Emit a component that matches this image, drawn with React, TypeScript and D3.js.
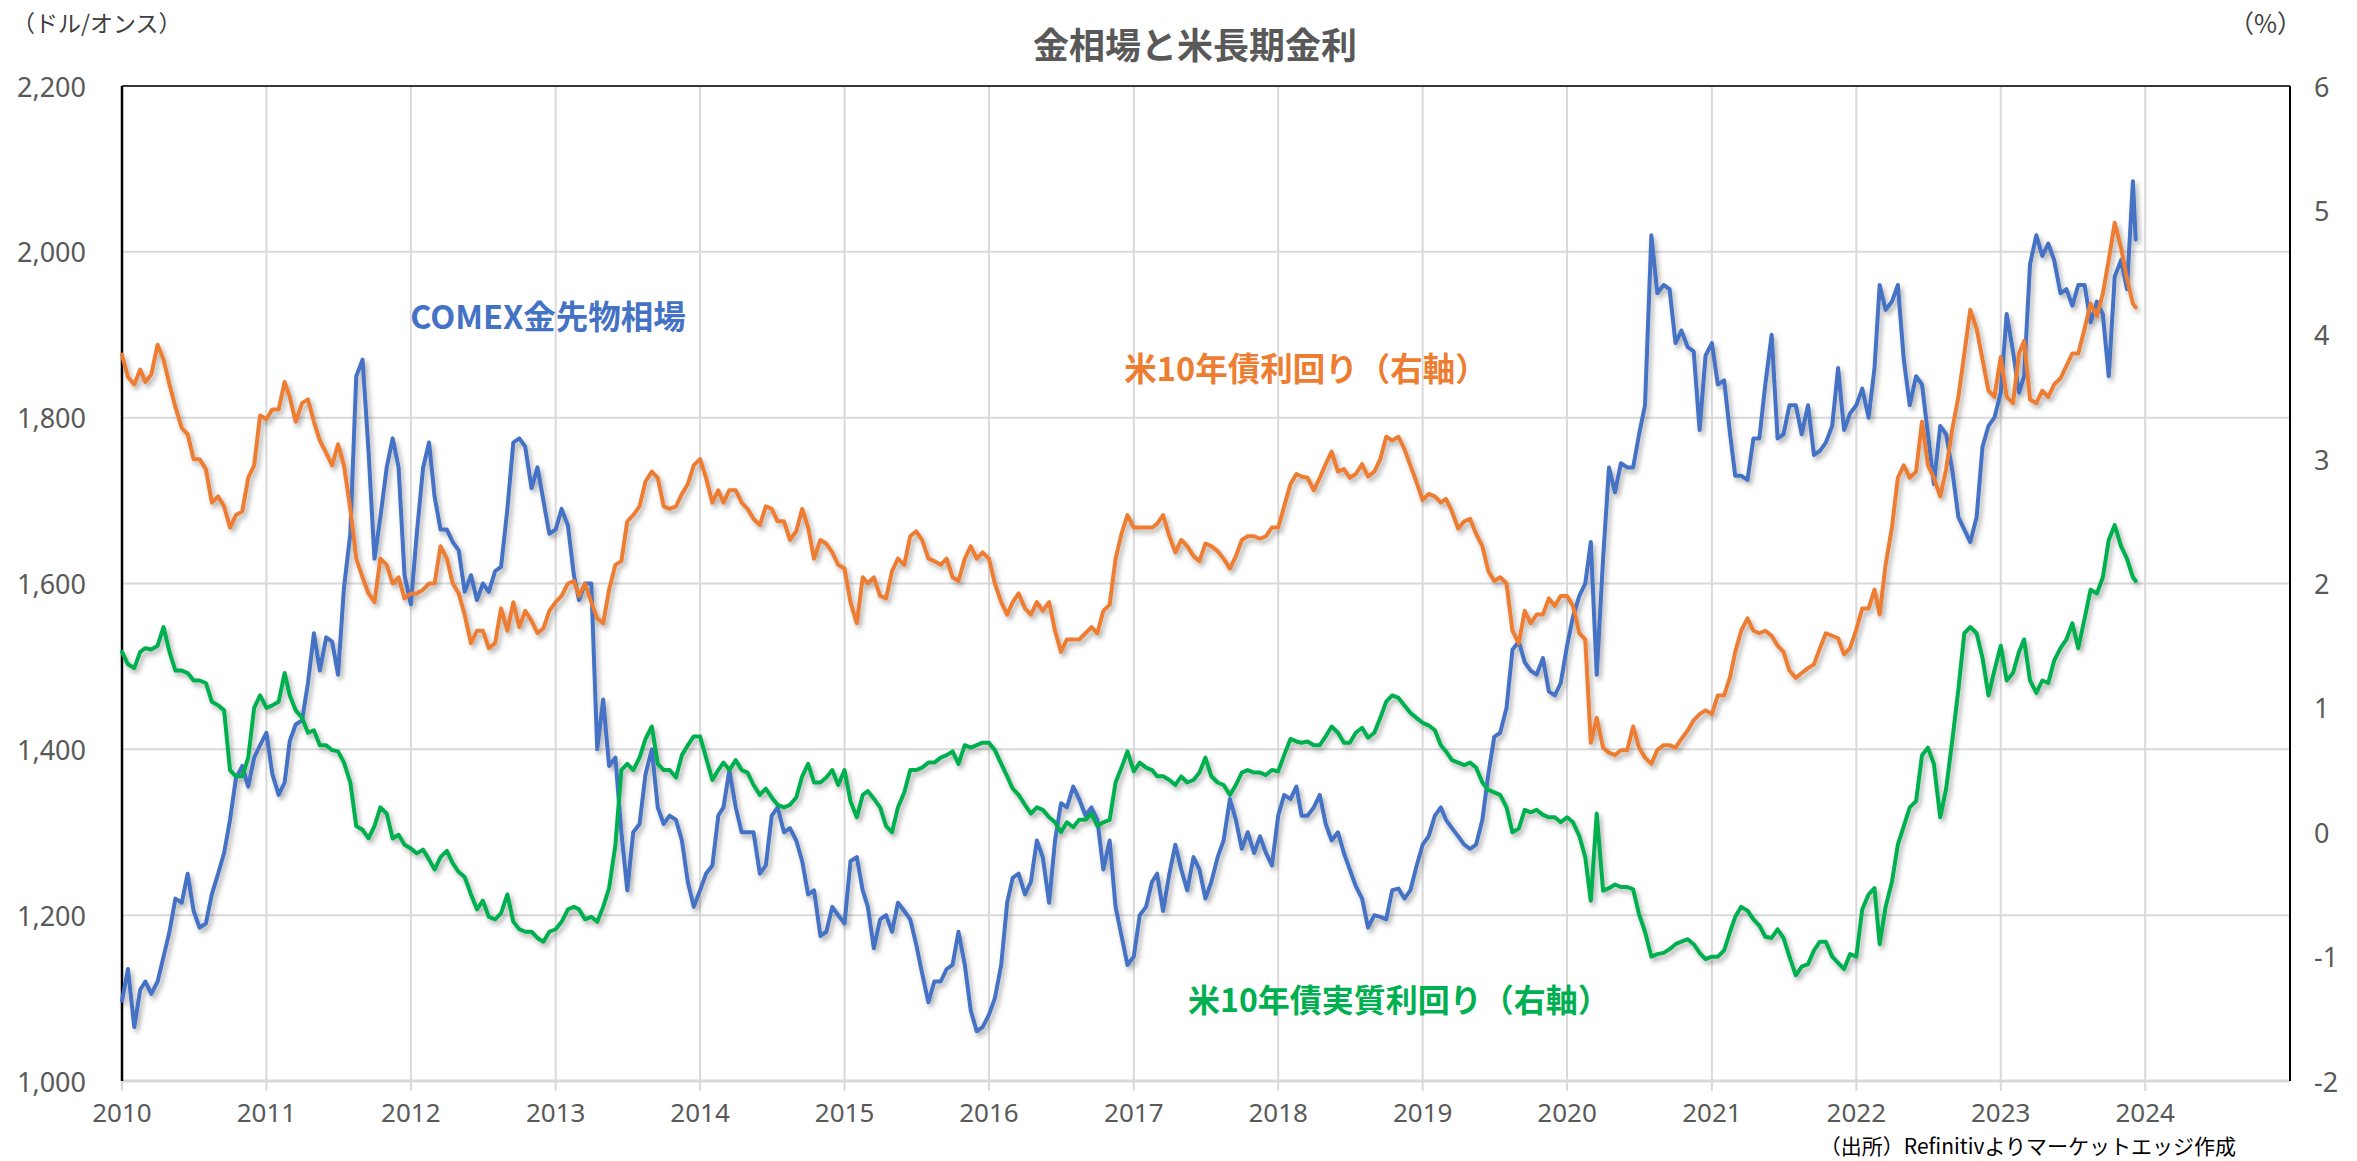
import React from "react";
import * as d3 from "d3";

// Semi-monthly observations (1st and 16th of each month), Jan 2010 – Dec 2023 (last point = Dec 8, 2023)
const GOLD: number[] = [
  // 2010
  1097, 1135, 1065, 1110, 1120, 1105, 1120, 1150, 1180, 1220, 1215, 1250, 1205, 1185, 1190, 1225, 1250, 1275, 1315, 1365, 1380, 1355, 1390, 1405,
  // 2011
  1420, 1370, 1345, 1360, 1410, 1430, 1435, 1480, 1540, 1495, 1535, 1530, 1490, 1595, 1660, 1850, 1870, 1760, 1630, 1680, 1740, 1775, 1740, 1610,
  // 2012
  1575, 1660, 1740, 1770, 1705, 1665, 1665, 1650, 1640, 1590, 1610, 1580, 1600, 1590, 1615, 1620, 1690, 1770, 1775, 1765, 1715, 1740, 1700, 1660,
  // 2013
  1665, 1690, 1670, 1610, 1580, 1600, 1600, 1400, 1460, 1380, 1390, 1300, 1230, 1300, 1310, 1370, 1400, 1330, 1310, 1320, 1315, 1290, 1240, 1210,
  // 2014
  1230, 1250, 1260, 1320, 1330, 1375, 1330, 1300, 1300, 1300, 1250, 1260, 1320, 1330, 1300, 1305, 1290, 1265, 1225, 1230, 1175, 1180, 1210, 1200,
  // 2015
  1190, 1265, 1270, 1230, 1210, 1160, 1195, 1200, 1180, 1215, 1205, 1195, 1165, 1130, 1095, 1120, 1120, 1135, 1140, 1180, 1140, 1085, 1060, 1065,
  // 2016
  1080, 1100, 1140, 1215, 1245, 1250, 1225, 1240, 1290, 1270, 1215, 1290, 1335, 1330, 1355, 1340, 1320, 1330, 1315, 1255, 1290, 1210, 1175, 1140,
  // 2017
  1150, 1200, 1210, 1240, 1250, 1205, 1250, 1285, 1255, 1230, 1270, 1255, 1220, 1240, 1270, 1290, 1340, 1315, 1280, 1300, 1275, 1295, 1275, 1260,
  // 2018
  1320, 1345, 1340, 1355, 1320, 1320, 1330, 1345, 1310, 1290, 1300, 1275, 1255, 1235, 1220, 1185, 1200, 1198, 1195, 1230, 1232, 1220, 1230, 1258,
  // 2019
  1285, 1295, 1320, 1330, 1315, 1305, 1295, 1285, 1280, 1285, 1315, 1370, 1415, 1420, 1450, 1520, 1530, 1505, 1495, 1490, 1510, 1470, 1465, 1480,
  // 2020
  1525, 1560, 1585, 1600, 1650, 1490, 1630, 1740, 1710, 1745, 1740, 1740, 1780, 1815, 2020, 1950, 1960, 1955, 1890, 1905, 1885, 1880, 1785, 1875,
  // 2021
  1890, 1840, 1845, 1780, 1730, 1730, 1725, 1775, 1775, 1840, 1900, 1775, 1780, 1815, 1815, 1780, 1815, 1755, 1760, 1770, 1790, 1860, 1785, 1805,
  // 2022
  1815, 1835, 1800, 1860, 1960, 1930, 1940, 1960, 1870, 1815, 1850, 1840, 1780, 1720, 1790, 1780, 1735, 1680, 1665, 1650, 1680, 1765, 1790, 1800,
  // 2023
  1830, 1925, 1880, 1830, 1850, 1985, 2020, 1995, 2010, 1990, 1950, 1955, 1935, 1960, 1960, 1915, 1940, 1925, 1850, 1970, 1990, 1955, 2085, 2015,
];

const YIELD10Y: number[] = [
  // 2010
  3.84, 3.66, 3.6, 3.72, 3.62, 3.68, 3.92, 3.8, 3.6, 3.42, 3.25, 3.2, 3.0, 3.0, 2.92, 2.65, 2.7, 2.62, 2.45, 2.55, 2.58, 2.85, 2.95, 3.35,
  // 2011
  3.32, 3.4, 3.4, 3.62, 3.5, 3.3, 3.45, 3.48, 3.3, 3.15, 3.05, 2.95, 3.12, 2.95, 2.6, 2.2, 2.05, 1.92, 1.85, 2.2, 2.15, 2.0, 2.05, 1.88,
  // 2012
  1.92, 1.92, 1.95, 2.0, 2.0, 2.3, 2.2, 2.0, 1.92, 1.75, 1.52, 1.62, 1.62, 1.48, 1.52, 1.8, 1.62, 1.85, 1.65, 1.78, 1.7, 1.6, 1.64, 1.78,
  // 2013
  1.85, 1.9, 2.0, 2.02, 1.9, 2.0, 1.85, 1.72, 1.68, 1.95, 2.15, 2.18, 2.5, 2.55, 2.62, 2.82, 2.9, 2.85, 2.62, 2.6, 2.62, 2.72, 2.8, 2.95,
  // 2014
  3.0, 2.85, 2.65, 2.75, 2.65, 2.75, 2.75, 2.65, 2.6, 2.52, 2.47, 2.62, 2.6, 2.5, 2.5, 2.35, 2.42, 2.6, 2.45, 2.2, 2.35, 2.32, 2.25, 2.15,
  // 2015
  2.12, 1.85, 1.68, 2.05, 2.0, 2.05, 1.9, 1.88, 2.1, 2.2, 2.15, 2.38, 2.42, 2.35, 2.2, 2.18, 2.15, 2.2, 2.05, 2.02, 2.2, 2.3, 2.2, 2.25,
  // 2016
  2.2, 2.0, 1.85, 1.75, 1.85, 1.92, 1.8, 1.75, 1.85, 1.78, 1.85, 1.62, 1.45, 1.55, 1.55, 1.55, 1.6, 1.65, 1.6, 1.78, 1.83, 2.2, 2.4, 2.55,
  // 2017
  2.45, 2.45, 2.45, 2.45, 2.48, 2.55, 2.38, 2.25, 2.35, 2.3, 2.22, 2.18, 2.32, 2.3, 2.26, 2.2, 2.12, 2.22, 2.35, 2.38, 2.38, 2.36, 2.38, 2.45,
  // 2018
  2.45, 2.62, 2.8, 2.88, 2.86, 2.85, 2.75, 2.85, 2.96, 3.06, 2.9, 2.92, 2.85, 2.88, 2.96, 2.86, 2.9, 3.0, 3.18, 3.15, 3.18, 3.08, 2.95, 2.82,
  // 2019
  2.67, 2.72, 2.7, 2.65, 2.68, 2.58, 2.44, 2.5, 2.52, 2.4, 2.3, 2.1, 2.02, 2.05, 2.0, 1.62, 1.52, 1.78, 1.68, 1.75, 1.75, 1.88, 1.82, 1.9,
  // 2020
  1.9, 1.82, 1.6, 1.55, 0.72, 0.92, 0.68, 0.64, 0.62, 0.66, 0.66, 0.85, 0.68, 0.6, 0.55, 0.66, 0.7, 0.7, 0.68, 0.75, 0.82, 0.9, 0.95, 0.98,
  // 2021
  0.95, 1.1, 1.1, 1.25, 1.45, 1.62, 1.72, 1.62, 1.6, 1.62, 1.58, 1.5, 1.45, 1.3, 1.24, 1.28, 1.32, 1.35, 1.48, 1.6, 1.58, 1.56, 1.43, 1.48,
  // 2022
  1.63, 1.8, 1.8, 1.95, 1.75, 2.15, 2.45, 2.85, 2.95, 2.85, 2.9, 3.3, 2.95, 2.85, 2.7, 2.92, 3.25, 3.5, 3.85, 4.2, 4.05, 3.8, 3.55, 3.5,
  // 2023
  3.82, 3.5, 3.45, 3.85, 3.95, 3.48, 3.45, 3.55, 3.5, 3.6, 3.65, 3.75, 3.85, 3.85, 4.05, 4.25, 4.15, 4.33, 4.6, 4.9, 4.7, 4.45, 4.25, 4.22,
];

const REAL10Y: number[] = [
  // 2010
  1.45, 1.35, 1.32, 1.45, 1.48, 1.47, 1.5, 1.65, 1.45, 1.3, 1.3, 1.28, 1.22, 1.22, 1.2, 1.05, 1.02, 0.98, 0.5, 0.45, 0.45, 0.6, 1.0, 1.1,
  // 2011
  1.0, 1.02, 1.05, 1.28, 1.1, 0.98, 0.92, 0.8, 0.82, 0.7, 0.7, 0.66, 0.65, 0.56, 0.4, 0.05, 0.02, -0.05, 0.05, 0.2, 0.15, -0.05, -0.02, -0.1,
  // 2012
  -0.13, -0.17, -0.14, -0.22, -0.3, -0.2, -0.15, -0.25, -0.32, -0.36, -0.5, -0.62, -0.55, -0.68, -0.7, -0.65, -0.5, -0.72, -0.78, -0.8, -0.8, -0.85, -0.88, -0.8,
  // 2013
  -0.78, -0.72, -0.62, -0.6, -0.62, -0.7, -0.68, -0.72, -0.6, -0.45, -0.1, 0.5, 0.55, 0.5, 0.6, 0.75, 0.85, 0.55, 0.5, 0.5, 0.44, 0.62, 0.7, 0.77,
  // 2014
  0.77, 0.6, 0.42, 0.5, 0.56, 0.5, 0.58, 0.5, 0.48, 0.38, 0.3, 0.35, 0.28, 0.22, 0.2, 0.22, 0.28, 0.45, 0.55, 0.4, 0.4, 0.44, 0.5, 0.38,
  // 2015
  0.5, 0.25, 0.12, 0.3, 0.33, 0.27, 0.2, 0.05, 0.0, 0.2, 0.32, 0.5, 0.5, 0.52, 0.56, 0.56, 0.6, 0.62, 0.65, 0.55, 0.7, 0.68, 0.7, 0.72,
  // 2016
  0.72, 0.66, 0.55, 0.45, 0.35, 0.3, 0.22, 0.15, 0.2, 0.18, 0.12, 0.08, 0.0, 0.08, 0.04, 0.1, 0.1, 0.15, 0.05, 0.08, 0.1, 0.4, 0.52, 0.65,
  // 2017
  0.49, 0.56, 0.52, 0.5, 0.45, 0.45, 0.42, 0.38, 0.45, 0.4, 0.42, 0.48, 0.6, 0.45, 0.4, 0.38, 0.3, 0.38, 0.48, 0.5, 0.48, 0.48, 0.46, 0.5,
  // 2018
  0.49, 0.62, 0.75, 0.73, 0.72, 0.73, 0.7, 0.7, 0.77, 0.85, 0.8, 0.72, 0.72, 0.8, 0.84, 0.76, 0.8, 0.92, 1.05, 1.1, 1.08, 1.02, 0.96, 0.92,
  // 2019
  0.88, 0.86, 0.82, 0.7, 0.65, 0.58, 0.56, 0.54, 0.56, 0.52, 0.4, 0.34, 0.32, 0.3, 0.2, 0.0, 0.03, 0.18, 0.16, 0.18, 0.14, 0.12, 0.12, 0.08,
  // 2020
  0.12, 0.08, -0.03, -0.2, -0.55, 0.15, -0.47, -0.45, -0.42, -0.44, -0.44, -0.46, -0.66, -0.8, -1.0, -0.98, -0.97, -0.94, -0.9, -0.88, -0.86, -0.9, -0.97, -1.02,
  // 2021
  -1.0, -1.0, -0.95, -0.8, -0.68, -0.6, -0.63, -0.7, -0.75, -0.84, -0.85, -0.78, -0.85, -1.0, -1.15, -1.08, -1.06, -0.95, -0.88, -0.88, -1.0, -1.05, -1.1, -0.98,
  // 2022
  -1.0, -0.62, -0.5, -0.45, -0.9, -0.6, -0.4, -0.1, 0.05, 0.2, 0.25, 0.62, 0.68, 0.55, 0.12, 0.35, 0.75, 1.15, 1.6, 1.65, 1.6, 1.4, 1.1, 1.3,
  // 2023
  1.5, 1.22, 1.28, 1.45, 1.55, 1.22, 1.12, 1.22, 1.2, 1.38, 1.48, 1.55, 1.68, 1.48, 1.72, 1.95, 1.92, 2.05, 2.35, 2.47, 2.3, 2.2, 2.05, 2.02,
];

const LEFT_TICKS = [1000, 1200, 1400, 1600, 1800, 2000, 2200];
const RIGHT_TICKS = [-2, -1, 0, 1, 2, 3, 4, 5, 6];
const YEARS = d3.range(2010, 2025);

const TITLE = "金相場と米長期金利";
const LEFT_UNIT = "（ドル/オンス）";
const RIGHT_UNIT = "（%）";
const SOURCE = "（出所）Refinitivよりマーケットエッジ作成";
const LABEL_GOLD = "COMEX金先物相場";
const LABEL_YIELD = "米10年債利回り（右軸）";
const LABEL_REAL = "米10年債実質利回り（右軸）";

const W = 2357;
const H = 1161;
const PL = 122, PR = 2290, PT = 86, PB = 1081;

const dateAt = (i: number, n: number) =>
  i === n - 1 ? new Date(2023, 11, 8) : new Date(2010, Math.floor(i / 2), i % 2 === 0 ? 1 : 16);

export default function App() {
  const x = d3.scaleTime().domain([new Date(2010, 0, 1), new Date(2025, 0, 1)]).range([PL, PR]);
  const yL = d3.scaleLinear().domain([1000, 2200]).range([PB, PT]);
  const yR = d3.scaleLinear().domain([-2, 6]).range([PB, PT]);

  const mk = (vals: number[], y: d3.ScaleLinear<number, number>) =>
    d3
      .line<number>()
      .x((_, i) => x(dateAt(i, vals.length)))
      .y((v) => y(v))(vals) || "";

  const goldPath = mk(GOLD, yL);
  const yieldPath = mk(YIELD10Y, yR);
  const realPath = mk(REAL10Y, yR);

  const tickFont = "'Noto Sans', 'Noto Sans CJK JP', sans-serif";
  const jpFont = "'Noto Sans CJK JP', 'Noto Sans', sans-serif";
  const grey = "#595959";
  const grid = "#D9D9D9";

  return (
    <svg
      width={W}
      height={H}
      viewBox={`0 0 ${W} ${H}`}
      style={{ position: "absolute", left: 0, top: 0, background: "#fff" }}
    >
      <defs>
        <filter id="shadow" x="-2%" y="-5%" width="104%" height="115%">
          <feDropShadow dx="2.5" dy="3.5" stdDeviation="2.5" floodColor="#000" floodOpacity="0.32" />
        </filter>
      </defs>
      <rect x={0} y={0} width={W} height={H} fill="#fff" />

      {/* horizontal gridlines */}
      {LEFT_TICKS.filter((t) => t > 1000).map((t) => (
        <line key={"h" + t} x1={PL} x2={PR} y1={yL(t)} y2={yL(t)} stroke={grid} strokeWidth={2} />
      ))}
      {/* vertical gridlines */}
      {YEARS.filter((yr) => yr > 2010).map((yr) => (
        <line
          key={"v" + yr}
          x1={x(new Date(yr, 0, 1))}
          x2={x(new Date(yr, 0, 1))}
          y1={PT}
          y2={PB}
          stroke={grid}
          strokeWidth={2}
        />
      ))}
      {/* x ticks */}
      {YEARS.map((yr) => (
        <line
          key={"t" + yr}
          x1={x(new Date(yr, 0, 1))}
          x2={x(new Date(yr, 0, 1))}
          y1={PB}
          y2={PB + 10}
          stroke={grid}
          strokeWidth={2}
        />
      ))}
      {/* bottom axis */}
      <line x1={PL} x2={PR} y1={PB} y2={PB} stroke={grid} strokeWidth={3} />
      {/* plot border */}
      <line x1={PL} x2={PR} y1={PT} y2={PT} stroke="#000" strokeWidth={1.6} />
      <line x1={PR} x2={PR} y1={PT} y2={PB} stroke="#000" strokeWidth={2} />
      <line x1={PL} x2={PL} y1={PT} y2={PB} stroke="#000" strokeWidth={2.5} />

      {/* series */}
      <g fill="none" strokeWidth={4} strokeLinejoin="round" strokeLinecap="round" filter="url(#shadow)">
        <path d={goldPath} stroke="#4472C4" />
        <path d={yieldPath} stroke="#ED7D31" />
        <path d={realPath} stroke="#00B050" />
      </g>

      {/* left tick labels */}
      {LEFT_TICKS.map((t) => (
        <text
          key={"l" + t}
          x={86}
          y={yL(t)}
          textAnchor="end"
          dominantBaseline="central"
          fontFamily={tickFont}
          fontSize={27}
          fill={grey}
        >
          {d3.format(",")(t)}
        </text>
      ))}
      {/* right tick labels */}
      {RIGHT_TICKS.map((t) => (
        <text
          key={"r" + t}
          x={2314}
          y={yR(t)}
          textAnchor="start"
          dominantBaseline="central"
          fontFamily={tickFont}
          fontSize={27}
          fill={grey}
        >
          {t}
        </text>
      ))}
      {/* x tick labels */}
      {YEARS.map((yr) => (
        <text
          key={"x" + yr}
          x={x(new Date(yr, 0, 1))}
          y={1112}
          textAnchor="middle"
          dominantBaseline="central"
          fontFamily={tickFont}
          fontSize={26}
          fill={grey}
        >
          {yr}
        </text>
      ))}

      {/* titles */}
      <text x={1195} y={43} textAnchor="middle" dominantBaseline="central" fontFamily={jpFont} fontWeight="bold" fontSize={36} fill={grey}>
        {TITLE}
      </text>
      <text x={12} y={22} dominantBaseline="central" fontFamily={jpFont} fontSize={23} fill="#404040">
        {LEFT_UNIT}
      </text>
      <text x={2302} y={22} textAnchor="end" dominantBaseline="central" fontFamily={jpFont} fontSize={25} fill="#404040">
        {RIGHT_UNIT}
      </text>

      {/* series labels */}
      <text x={548} y={314} textAnchor="middle" dominantBaseline="central" fontFamily={jpFont} fontWeight="bold" fontSize={32.5} fill="#4472C4">
        {LABEL_GOLD}
      </text>
      <text x={1306} y={366} textAnchor="middle" dominantBaseline="central" fontFamily={jpFont} fontWeight="bold" fontSize={32.5} fill="#ED7D31">
        {LABEL_YIELD}
      </text>
      <text x={1399} y={998} textAnchor="middle" dominantBaseline="central" fontFamily={jpFont} fontWeight="bold" fontSize={32} fill="#00B050">
        {LABEL_REAL}
      </text>

      {/* source */}
      <text x={2236} y={1145} textAnchor="end" dominantBaseline="central" fontFamily={jpFont} fontSize={21} fill="#000">
        {SOURCE}
      </text>
    </svg>
  );
}
